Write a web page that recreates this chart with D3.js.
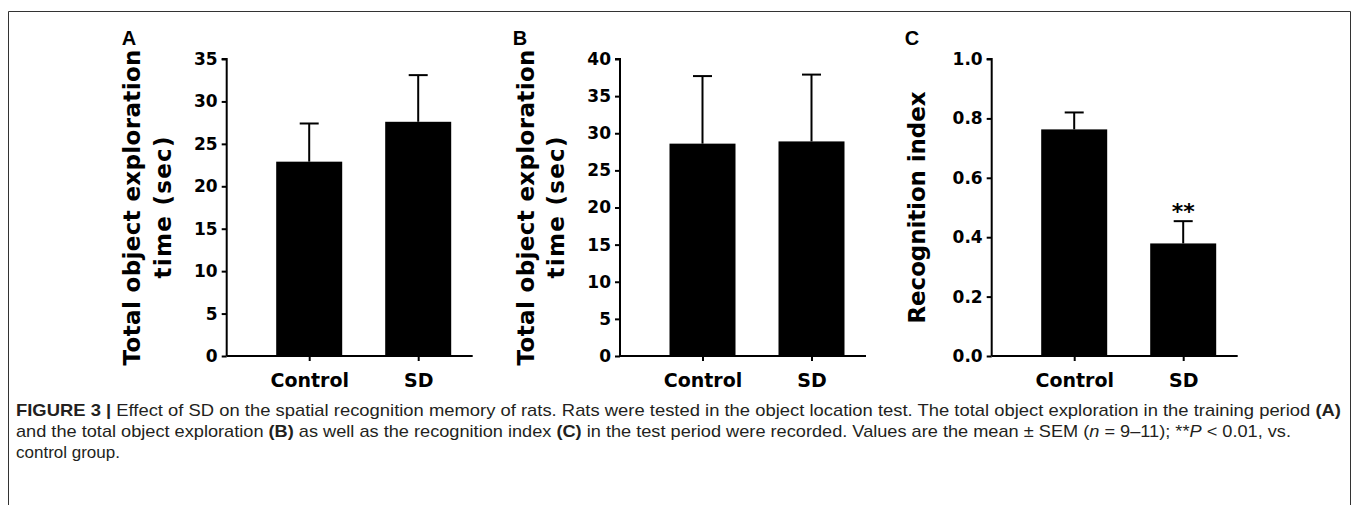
<!DOCTYPE html>
<html>
<head>
<meta charset="utf-8">
<script src="https://cdn.jsdelivr.net/npm/d3@7"></script>
<style>
  body { margin: 0; background: #fff; }
  svg { display: block; }
  .tick text, .cat, .ytitle, .star { font-family: "DejaVu Sans", sans-serif; font-weight: bold; fill: #000; }
  .letter { font-family: "Liberation Sans", Arial, sans-serif; font-weight: bold; font-size: 20px; }
  .caption { font-family: "Liberation Sans", Arial, sans-serif; font-size: 17px; fill: #231f20; }
</style>
</head>
<body>
<svg width="1357" height="505"></svg>
<script>
const svg = d3.select("svg");

// data
const groups = ["Control", "SD"];
const meanA = [22.9, 27.6];
const semA = [4.5, 5.5];
const meanB = [28.6, 28.9];
const semB = [9.1, 9.0];
const meanC = [0.763, 0.379];
const semC = [0.057, 0.075];
const ticksA = [0, 5, 10, 15, 20, 25, 30, 35];
const ticksB = [0, 5, 10, 15, 20, 25, 30, 35, 40];
const ticksC = [0, 0.2, 0.4, 0.6, 0.8, 1.0];
const sigC = ["", "**"];

const yTop = 59, yBottom = 356;

// frame round the figure
svg.append("path")
	.attr("d", "M8.5,505 L8.5,11.5 L1350.5,11.5 L1350.5,505")
	.attr("fill", "none")
	.attr("stroke", "#333")
	.attr("stroke-width", 1);

function drawPanel(opt) {
	const g = svg.append("g");
	const x0 = opt.x0;

	const y = d3.scaleLinear().domain([0, opt.max]).range([yBottom, yTop]);
	const x = d3.scalePoint().domain(groups).range([x0 + 82.5, x0 + 191.5]);

	// bars
	g.selectAll(".bar")
		.data(groups)
		.enter().append("rect")
		.attr("x", d => x(d) - 33)
		.attr("width", 66)
		.attr("y", (d, i) => y(opt.mean[i]))
		.attr("height", (d, i) => y(0) - y(opt.mean[i]))
		.attr("fill", "#000");

	// error bars (upper only)
	const err = g.selectAll(".err")
		.data(groups)
		.enter().append("g");
	err.append("line")
		.attr("x1", d => x(d)).attr("x2", d => x(d))
		.attr("y1", (d, i) => y(opt.mean[i]))
		.attr("y2", (d, i) => y(opt.mean[i] + opt.sem[i]))
		.attr("stroke", "#000").attr("stroke-width", 2);
	err.append("line")
		.attr("x1", d => x(d) - 9.5).attr("x2", d => x(d) + 9.5)
		.attr("y1", (d, i) => y(opt.mean[i] + opt.sem[i]))
		.attr("y2", (d, i) => y(opt.mean[i] + opt.sem[i]))
		.attr("stroke", "#000").attr("stroke-width", 2);

	if (opt.sig) {
		g.selectAll(".star")
			.data(groups)
			.enter().append("text")
			.attr("class", "star")
			.attr("x", d => x(d))
			.attr("y", (d, i) => y(opt.mean[i] + opt.sem[i]) - 2)
			.attr("text-anchor", "middle")
			.attr("font-size", 22)
			.text((d, i) => opt.sig[i]);
	}

	// y axis
	const yAxis = g.append("g")
		.attr("transform", `translate(${x0},0)`)
		.call(d3.axisLeft(y).tickValues(opt.ticks).tickFormat(opt.fmt).tickSize(5).tickPadding(4));
	yAxis.select(".domain").attr("d", `M-5,${yTop}H0V${yBottom}`).attr("stroke-width", 2);
	yAxis.selectAll(".tick line").attr("stroke-width", 2);
	yAxis.selectAll(".tick text").attr("font-size", 17);

	// x axis
	const xAxis = g.append("g")
		.attr("transform", `translate(0,${yBottom})`)
		.call(d3.axisBottom(x).tickSize(5).tickPadding(13));
	xAxis.select(".domain").attr("d", `M${x0},0H${x0 + 246}`).attr("stroke-width", 2);
	xAxis.selectAll(".tick line").attr("stroke-width", 2);
	xAxis.selectAll(".tick text").attr("class", "cat").attr("font-size", 19);

	// y title
	const cy = (yTop + yBottom) / 2;
	opt.title.forEach((t, i) => {
		const cx = x0 - opt.titleOff[i];
		g.append("text")
			.attr("class", "ytitle")
			.attr("transform", `translate(${cx},${cy}) rotate(-90)`)
			.attr("text-anchor", "middle")
			.attr("dominant-baseline", "central")
			.attr("font-size", 23)
			.attr("textLength", opt.titleLen[i])
			.attr("lengthAdjust", "spacing")
			.text(t);
	});

	// panel letter
	g.append("text")
		.attr("class", "letter")
		.attr("x", opt.letterX)
		.attr("y", 45)
		.attr("text-anchor", "middle")
		.text(opt.letter);
}

drawPanel({ x0: 226.7, max: 35, mean: meanA, sem: semA, ticks: ticksA, fmt: d3.format("d"),
	title: ["Total object exploration", "time (sec)"], titleOff: [95, 64], titleLen: [316, 142],
	letter: "A", letterX: 129 });
drawPanel({ x0: 620, max: 40, mean: meanB, sem: semB, ticks: ticksB, fmt: d3.format("d"),
	title: ["Total object exploration", "time (sec)"], titleOff: [94, 64], titleLen: [316, 142],
	letter: "B", letterX: 520 });
drawPanel({ x0: 991.7, max: 1.0, mean: meanC, sem: semC, ticks: ticksC, fmt: d3.format(".1f"),
	title: ["Recognition index"], titleOff: [75], titleLen: [232],
	letter: "C", letterX: 912, sig: sigC });

// caption
const cap = svg.append("g").attr("class", "caption");
const l1 = cap.append("text").attr("x", 16).attr("y", 416)
	.attr("textLength", 1325).attr("lengthAdjust", "spacingAndGlyphs");
l1.append("tspan").attr("font-weight", "bold").text("FIGURE 3 | ");
l1.append("tspan").text("Effect of SD on the spatial recognition memory of rats. Rats were tested in the object location test. The total object exploration in the training period ");
l1.append("tspan").attr("font-weight", "bold").text("(A)");

const l2 = cap.append("text").attr("x", 16).attr("y", 437)
	.attr("textLength", 1275).attr("lengthAdjust", "spacingAndGlyphs");
l2.append("tspan").text("and the total object exploration ");
l2.append("tspan").attr("font-weight", "bold").text("(B)");
l2.append("tspan").text(" as well as the recognition index ");
l2.append("tspan").attr("font-weight", "bold").text("(C)");
l2.append("tspan").text(" in the test period were recorded. Values are the mean \u00b1 SEM (");
l2.append("tspan").attr("font-style", "italic").text("n");
l2.append("tspan").text(" = 9\u201311); **");
l2.append("tspan").attr("font-style", "italic").text("P");
l2.append("tspan").text(" < 0.01, vs.");

cap.append("text").attr("x", 16).attr("y", 458).text("control group.");
</script>
</body>
</html>
